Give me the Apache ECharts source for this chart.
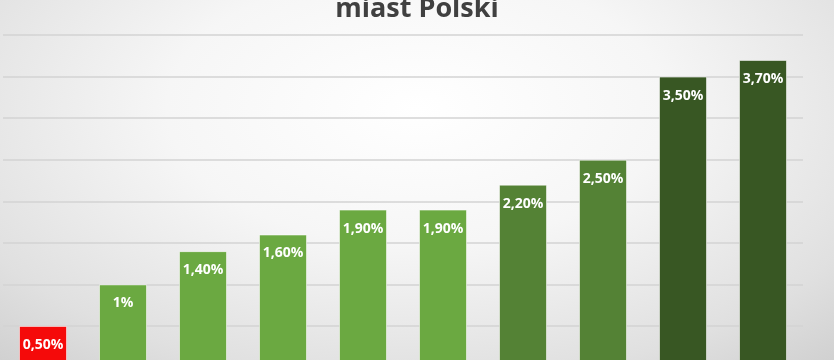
<!DOCTYPE html>
<html>
<head>
<meta charset="utf-8">
<script src="https://cdn.jsdelivr.net/npm/echarts@6/dist/echarts.min.js"></script>
<style>
  html, body { margin: 0; padding: 0; }
  body {
    width: 834px; height: 360px; overflow: hidden;
    background: radial-gradient(ellipse 75% 95% at 50% 30%, #ffffff 0%, #f6f6f6 40%, #e0e0e0 80%, #d0d0d0 100%);
  }
  /* the plot runs on past the lower edge of the page, so the bar bases are clipped */
  #chart { width: 834px; height: 380px; }
</style>
</head>
<body>
<div id="chart"></div>
<script>
// Ranks of the cities, left to right (axis labels are not shown)
const ranks = ['1', '2', '3', '4', '5', '6', '7', '8', '9', '10'];
// Growth in percent
const values = [0.5, 1.0, 1.4, 1.6, 1.9, 1.9, 2.2, 2.5, 3.5, 3.7];
// Colour group for each bar
const groups = ['red', 'light', 'light', 'light', 'light', 'light', 'mid', 'mid', 'dark', 'dark'];
const palette = { red: '#f50a0a', light: '#6ba941', mid: '#548235', dark: '#385723' };
const titleText = 'miast Polski';

const fmt = v => {
  const s = Number.isInteger(v) ? String(v) : v.toFixed(2);
  return s.replace('.', ',') + '%';
};

const chart = echarts.init(document.getElementById('chart'), null, { renderer: 'canvas' });
chart.setOption({
  backgroundColor: 'transparent',
  animation: false,
  title: {
    text: titleText,
    left: 'center',
    top: -9,
    textStyle: { fontFamily: 'Open Sans', fontWeight: 'bold', fontSize: 27, color: '#404040' }
  },
  grid: { left: 3, top: 35, width: 800, height: 332.5 },
  xAxis: {
    type: 'category',
    data: ranks,
    axisLine: { show: false },
    axisTick: { show: false },
    axisLabel: { show: false }
  },
  yAxis: {
    type: 'value',
    min: 0,
    max: 4,
    interval: 0.5,
    axisLabel: { show: false },
    axisLine: { show: false },
    axisTick: { show: false },
    splitLine: { lineStyle: { color: '#d3d3d3', width: 1.5 } }
  },
  series: [{
    type: 'bar',
    barWidth: 48,
    data: values.map((v, i) => ({
      value: v,
      itemStyle: { color: palette[groups[i]] }
    })),
    itemStyle: { borderColor: 'rgba(255,255,255,0.55)', borderWidth: 1 },
    label: {
      show: true,
      position: 'insideTop',
      distance: 12,
      formatter: p => fmt(p.value),
      fontFamily: 'Open Sans',
      fontWeight: 'bold',
      fontSize: 14,
      color: '#ffffff'
    }
  }]
});
</script>
</body>
</html>
